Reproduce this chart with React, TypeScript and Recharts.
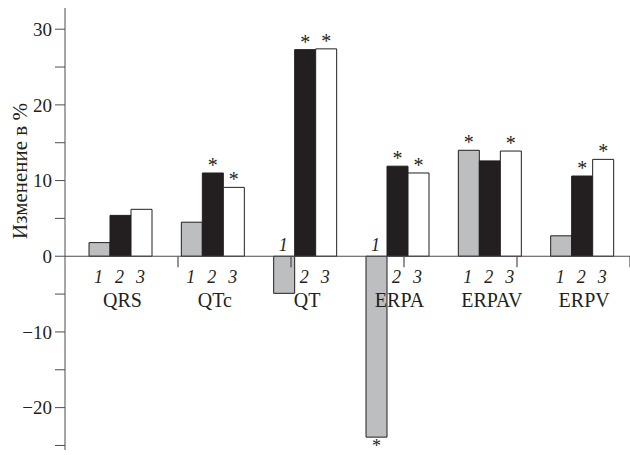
import React from 'react';
import { BarChart, Bar, XAxis, YAxis, ReferenceLine, LabelList } from 'recharts';

const categories = ['QRS', 'QTc', 'QT', 'ERPA', 'ERPAV', 'ERPV'];
const group1 = [1.8, 4.5, -4.9, -23.9, 14.0, 2.7];
const group2 = [5.4, 11.0, 27.3, 11.9, 12.6, 10.6];
const group3 = [6.2, 9.1, 27.4, 11.0, 13.9, 12.8];
const star1 = [false, false, false, true, true, false];
const star2 = [false, true, true, true, false, true];
const star3 = [false, true, true, true, true, true];
const seriesNames = ['1', '2', '3'];
const yTicks = [-25, -20, -15, -10, -5, 0, 5, 10, 15, 20, 25, 30];
const boundaries = [1, 2, 3, 4, 5];

const values = [group1, group2, group3];
const stars = [star1, star2, star3];

const INK = '#231f20';
const AXIS = '#4d4d4f';
const FONT = 'Liberation Serif, Times New Roman, serif';

const data = categories.map((name, i) => ({
  name,
  g1: group1[i],
  g2: group2[i],
  g3: group3[i],
}));

function makeLabel(series: number) {
  return (props: any) => {
    const vb = props.viewBox ?? props;
    const x = Number(vb.x ?? props.x);
    const y = Number(vb.y ?? props.y);
    const w = Number(vb.width ?? props.width);
    const h = Number(vb.height ?? props.height);
    const idx = props.index;
    const value = values[series][idx];
    const top = Math.min(y, y + h);
    const bottom = Math.max(y, y + h);
    const zero = value >= 0 ? bottom : top;
    const cx = x + w / 2;
    return (
      <g style={{ fontFamily: FONT }} fill={INK}>
        <text
          x={cx - 1}
          y={value >= 0 ? zero + 27 : zero - 5}
          textAnchor="middle"
          fontSize={18}
          fontStyle="italic"
        >
          {seriesNames[series]}
        </text>
        {stars[series][idx] && (
          <text
            x={cx}
            y={value >= 0 ? top - 1 : bottom + 15}
            textAnchor="middle"
            fontSize={value >= 0 ? 20 : 18}
          >
            *
          </text>
        )}
        {series === 1 && (
          <text x={cx + 2} y={zero + 51} textAnchor="middle" fontSize={20}>
            {categories[idx]}
          </text>
        )}
      </g>
    );
  };
}

const yLabel = (props: any) => {
  const vb = props.viewBox;
  const cx = vb.x + 20;
  const cy = vb.y + 163;
  return (
    <text
      x={cx}
      y={cy}
      transform={`rotate(-90 ${cx} ${cy})`}
      textAnchor="middle"
      dominantBaseline="central"
      style={{ fontFamily: FONT }}
      fontSize={21}
      fill={INK}
    >
      Изменение в %
    </text>
  );
};

export default function App() {
  return (
    <div style={{ position: 'absolute', left: 0, top: 0, background: '#fff', fontFamily: FONT }}>
      <BarChart
        width={630}
        height={455}
        data={data}
        margin={{ top: 8, right: 0, bottom: 5, left: 0 }}
        barGap={0}
        barSize={21}
      >
        <XAxis dataKey="name" hide padding={{ left: 9, right: 2 }} />
        <XAxis xAxisId="num" type="number" domain={[0, 6]} allowDataOverflow hide />
        <YAxis
          domain={[-25.6, 32.8]}
          ticks={yTicks}
          interval={0}
          allowDataOverflow
          width={65}
          stroke={AXIS}
          tickSize={10}
          tickMargin={3}
          tick={{ fill: INK, fontFamily: FONT, fontSize: 19, style: { fontFamily: FONT } }}
          tickFormatter={(v: number) => (v % 10 === 0 ? String(v).replace('-', '−') : '')}
          label={yLabel}
        />
        <ReferenceLine y={0} stroke={AXIS} strokeWidth={1.2} />
        {boundaries.map((b) => (
          <ReferenceLine
            key={b}
            xAxisId="num"
            segment={[{ x: b, y: 0 }, { x: b, y: -1.45 }]}
            stroke={AXIS}
            strokeWidth={1.2}
          />
        ))}
        <Bar dataKey="g1" fill="#bcbec0" stroke={INK} strokeWidth={1} isAnimationActive={false}>
          <LabelList dataKey="g1" content={makeLabel(0)} />
        </Bar>
        <Bar dataKey="g2" fill={INK} stroke={INK} strokeWidth={1} isAnimationActive={false}>
          <LabelList dataKey="g2" content={makeLabel(1)} />
        </Bar>
        <Bar dataKey="g3" fill="#ffffff" stroke={INK} strokeWidth={1} isAnimationActive={false}>
          <LabelList dataKey="g3" content={makeLabel(2)} />
        </Bar>
      </BarChart>
    </div>
  );
}
